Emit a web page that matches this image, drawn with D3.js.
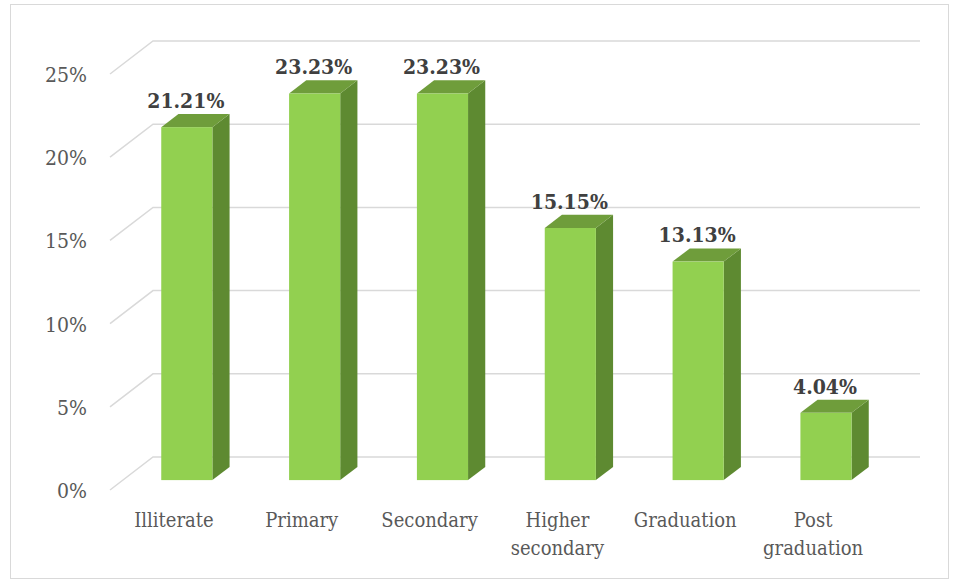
<!DOCTYPE html>
<html>
<head>
<meta charset="utf-8">
<script src="https://cdn.jsdelivr.net/npm/d3@7"></script>
<style>
  body { margin: 0; background: #fff; }
</style>
</head>
<body>
<div id="chart"></div>
<script>
var categories = ["Illiterate", "Primary", "Secondary", "Higher secondary", "Graduation", "Post graduation"];
var labelLines = [["Illiterate"], ["Primary"], ["Secondary"], ["Higher", "secondary"], ["Graduation"], ["Post", "graduation"]];
var values = [21.21, 23.23, 23.23, 15.15, 13.13, 4.04];
var tickValues = [0, 5, 10, 15, 20, 25];

var FONT = "'DejaVu Serif Condensed', 'DejaVu Serif', serif";

var width = 958, height = 580;
var svg = d3.select("#chart").append("svg")
	.attr("width", width).attr("height", height)
	.style("font-family", FONT)
	.style("font-stretch", "condensed");

// outer border
svg.append("rect")
	.attr("x", 10.5).attr("y", 4.5)
	.attr("width", 938).attr("height", 574)
	.style("fill", "#fff").style("stroke", "#d9d9d9").style("stroke-width", 1);

// 3d depth vector (front plane -> back wall)
var dx = 43, dy = -33;
var barFront = 0.3, barBack = 0.7;

var x = d3.scaleBand().domain(categories).range([110, 877]);
var y = d3.scaleLinear().domain([0, 25]).range([490, 74]);

var grid = svg.append("g").attr("class", "grid");
tickValues.forEach(function(t) {
	var yy = y(t);
	grid.append("path")
		.attr("d", "M110," + yy + "L" + (110 + dx) + "," + (yy + dy) + "L" + (877 + dx) + "," + (yy + dy))
		.style("fill", "none").style("stroke", "#d9d9d9").style("stroke-width", 1.5);
});

// y tick labels
svg.append("g").selectAll("text")
	.data(tickValues).enter().append("text")
		.attr("x", 87)
		.attr("y", function(d) { return y(d) + 8; })
		.attr("text-anchor", "end")
		.style("font-size", "21px")
		.style("fill", "#595959")
		.text(function(d) { return d + "%"; });

// bars
var bw = x.bandwidth() * 0.4;
var bars = svg.append("g").selectAll("g")
	.data(values).enter().append("g");

function bx(i) { return x(categories[i]) + (x.bandwidth() - bw) / 2 + dx * barFront; }
var ox = dx * (barBack - barFront), oy = dy * (barBack - barFront);

bars.each(function(d, i) {
	var g = d3.select(this);
	var x0 = bx(i), x1 = x0 + bw;
	var y0 = y(0) + dy * barFront, y1 = y(d) + dy * barFront;
	// side
	g.append("path")
		.attr("d", "M" + x1 + "," + y1 + "L" + (x1 + ox) + "," + (y1 + oy) + "L" + (x1 + ox) + "," + (y0 + oy) + "L" + x1 + "," + y0 + "Z")
		.style("fill", "#5e8a31");
	// top
	g.append("path")
		.attr("d", "M" + x0 + "," + y1 + "L" + (x0 + ox) + "," + (y1 + oy) + "L" + (x1 + ox) + "," + (y1 + oy) + "L" + x1 + "," + y1 + "Z")
		.style("fill", "#6f9d3b");
	// front
	g.append("rect")
		.attr("x", x0).attr("y", y1)
		.attr("width", bw).attr("height", y0 - y1)
		.style("fill", "#92d050");
	// value label
	g.append("text")
		.attr("x", x0 + bw / 2 - 1)
		.attr("y", y1 + oy - 6)
		.attr("text-anchor", "middle")
		.style("font-size", "21px")
		.style("font-weight", "bold")
		.style("fill", "#404040")
		.text(d.toFixed(2) + "%");
});

// x category labels
svg.append("g").selectAll("text")
	.data(categories).enter().append("text")
		.attr("text-anchor", "middle")
		.style("font-size", "20px")
		.style("fill", "#595959")
		.each(function(d, i) {
			var t = d3.select(this);
			labelLines[i].forEach(function(line, j) {
				t.append("tspan")
					.attr("x", x(d) + x.bandwidth() / 2)
					.attr("y", 527 + j * 28)
					.text(line);
			});
		});
</script>
</body>
</html>
